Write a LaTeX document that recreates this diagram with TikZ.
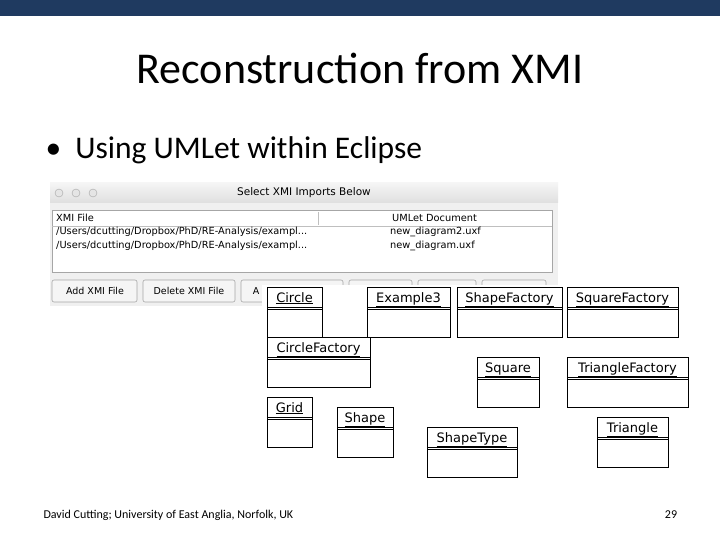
\documentclass[tikz,border=0pt]{standalone}
\usepackage{fontspec}
\setmainfont{Carlito}
\newfontfamily\uifont{DejaVu Sans}
\begin{document}
\begin{tikzpicture}[x=1pt,y=-1pt,
  umlbox/.style={draw,line width=0.9pt},
  umltxt/.style={font=\uifont\fontsize{13}{15}\selectfont,anchor=base,inner sep=0pt},
  btn/.style={draw=gray!70,rounded corners=2pt,fill=gray!8,line width=0.6pt},
  btntxt/.style={font=\uifont\fontsize{9.5}{11}\selectfont,inner sep=0pt},
  small/.style={font=\uifont\fontsize{9.8}{11}\selectfont,inner sep=0pt,anchor=west}]
\useasboundingbox (0,0) rectangle (720,540);
\fill[white] (0,0) rectangle (720,540);
\fill[fill={rgb,255:red,31;green,58;blue,96}] (0,0) rectangle (720,16);
\node (title) at (360,68) {\fontsize{44}{50}\selectfont Reconstruction from XMI};
\node[anchor=west] (bul) at (42,150) {\fontsize{31.5}{36}\selectfont \textbullet\ \ Using UMLet within Eclipse};
\node[anchor=west] (foot) at (40,515) {\fontsize{12}{14}\selectfont David Cutting; University of East Anglia, Norfolk, UK};
\node (pg) at (671,515) {\fontsize{12}{14}\selectfont 29};
% screenshot
\fill[gray!12] (50,183) rectangle (558,306);
\fill[top color=gray!8,bottom color=gray!25] (50,183) rectangle (558,203);
\foreach \cx in {59,76,93}{\draw[gray!70,fill=gray!20] (\cx,193) circle (4);}
\node[btntxt,font=\uifont\fontsize{10.5}{12}\selectfont] (wt) at (304,193) {Select XMI Imports Below};
\draw[gray!70,fill=white] (52,210) rectangle (552,272);
\draw[gray!50] (52,226) -- (552,226);
\draw[gray!50] (318,212) -- (318,225);
\node[small] (h1) at (56,218) {XMI File};
\node[small] (h2) at (392,218) {UMLet Document};
\node[small] (r1) at (56,232) {/Users/dcutting/Dropbox/PhD/RE-Analysis/exampl...};
\node[small] (r2) at (56,246) {/Users/dcutting/Dropbox/PhD/RE-Analysis/exampl...};
\node[small] (r3) at (390,232) {new\_diagram2.uxf};
\node[small] (r4) at (390,246) {new\_diagram.uxf};
\draw[btn] (52,280) rectangle (137,302);
\node[btntxt] (b1) at (95,291) {Add XMI File};
\draw[btn] (143,280) rectangle (235,302);
\node[btntxt] (b2) at (189,291) {Delete XMI File};
\draw[btn] (241,280) rectangle (343,302);
\draw[btn] (349,280) rectangle (412,302);
\draw[btn] (418,280) rectangle (476,302);
\draw[btn] (482,280) rectangle (546,302);
\node[btntxt] (b3) at (256,291) {A};
% white overlay of UML area
\fill[white] (262,285) rectangle (700,480);
% UML boxes
\foreach \n/\xa/\ya/\xb/\yb in {Circle/267/287/322/337, Example3/367/287/450/337, ShapeFactory/457/287/562/337, SquareFactory/567/287/678/337, CircleFactory/267/337/370/387, Square/477/357/539/407, TriangleFactory/567/357/688/407, Grid/267/397/312/447, Shape/337/407/393/457, ShapeType/427/427/517/477, Triangle/597/417/668/467}{
  \draw[umlbox,fill=white] (\xa,\ya) rectangle (\xb,\yb);
  \draw[line width=0.7pt] (\xa,\ya+20) -- (\xb,\ya+20);
  \draw[line width=0.7pt] (\xa,\ya+22.5) -- (\xb,\ya+22.5);
  \node[umltxt] (\n) at ({(\xa+\xb)/2},\ya+15) {\underline{\n}};
}
\end{tikzpicture}
\end{document}
